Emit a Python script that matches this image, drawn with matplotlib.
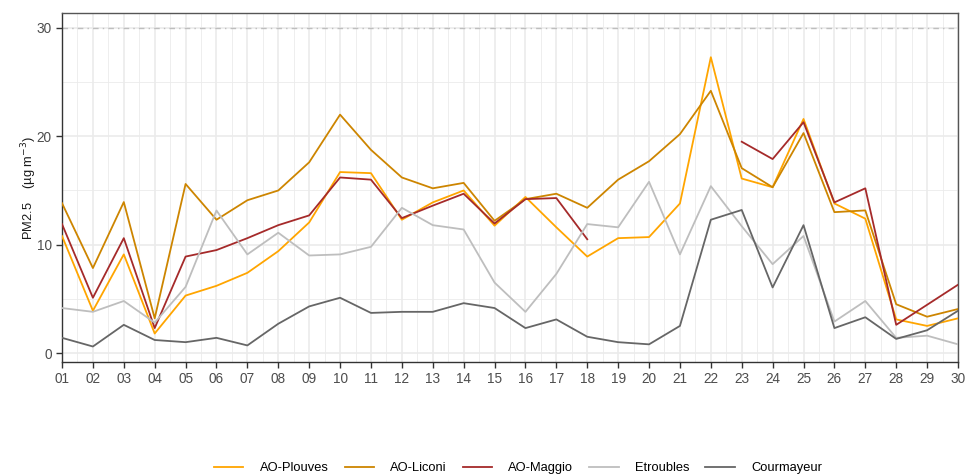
import matplotlib
matplotlib.use("Agg")
import matplotlib.pyplot as plt
import numpy as np

plt.rcParams['font.family'] = ['Liberation Sans', 'DejaVu Sans']

days = list(range(1, 31))
day_labels = [f"{d:02d}" for d in days]

plouves = [10.8, 3.9, 9.1, 1.8, 5.3, 6.2, 7.4, 9.4, 12.05, 16.7, 16.6, 12.3, 13.9, 15.0, 11.75,
           14.4, 11.6, 8.9, 10.6, 10.7, 13.8, 27.3, 16.1, 15.3, 21.6, 13.8, 12.4, 3.1, 2.5, 3.2]
liconi = [13.83, 7.84, 13.93, 3.2, 15.6, 12.3, 14.1, 15.0, 17.6, 22.0, 18.75, 16.2, 15.2, 15.7, 12.2,
          14.2, 14.7, 13.4, 16.0, 17.7, 20.2, 24.2, 17.06, 15.3, 20.3, 13.0, 13.16, 4.5, 3.35, 4.06]
maggio = [11.9, 5.1, 10.6, 2.3, 8.9, 9.5, 10.6, 11.8, 12.7, 16.2, 16.0, 12.45, 13.6, 14.7, 11.95,
          14.2, 14.3, 10.5, np.nan, np.nan, np.nan, np.nan, 19.5, 17.9, 21.3, 13.9, 15.2, 2.6, 4.45, 6.3]
etroubles = [4.15, 3.8, 4.8, 2.8, 6.1, 13.15, 9.1, 11.1, 9.0, 9.1, 9.8, 13.4, 11.8, 11.4, 6.5,
             3.8, 7.3, 11.9, 11.6, 15.8, 9.1, 15.4, 11.7, 8.2, 10.8, 2.9, 4.8, 1.4, 1.6, 0.8]
courmayeur = [1.4, 0.6, 2.6, 1.2, 1.0, 1.4, 0.7, 2.7, 4.3, 5.1, 3.7, 3.8, 3.8, 4.6, 4.15,
              2.3, 3.1, 1.5, 1.0, 0.8, 2.5, 12.3, 13.2, 6.05, 11.8, 2.3, 3.3, 1.3, 2.1, 3.9]

series = [
    ("AO-Plouves", plouves, "#FFA500"),
    ("AO-Liconi", liconi, "#CD8500"),
    ("AO-Maggio", maggio, "#A52A2A"),
    ("Etroubles", etroubles, "#BEBEBE"),
    ("Courmayeur", courmayeur, "#666666"),
]
limit_value = 30

fs = 9.3
fig = plt.figure(figsize=(9.66, 4.76), dpi=100)
ax = fig.add_axes([62/966, 1-362/476, (958-62)/966, (362-13)/476])

# grid
for v in np.arange(1.5, 30, 1.0):
    ax.axvline(v, color="#EBEBEB", lw=0.6, zorder=0)
for v in days:
    ax.axvline(v, color="#EBEBEB", lw=1.2, zorder=0)
for v in [5, 15, 25]:
    ax.axhline(v, color="#EBEBEB", lw=0.6, zorder=0)
for v in [0, 10, 20, 30]:
    ax.axhline(v, color="#EBEBEB", lw=1.2, zorder=0)

ax.axhline(limit_value, color="#BEBEBE", lw=1.0, dashes=(4, 3, 1, 3), zorder=1)

handles = []
for name, vals, col in series:
    h, = ax.plot(days, vals, color=col, lw=1.3, label=name, zorder=3)
    handles.append(h)

ax.set_xlim(1, 30)
ax.set_ylim(-0.83, 31.38)
ax.set_xticks(days)
ax.set_xticklabels(day_labels)
ax.set_yticks([0, 10, 20, 30])
ax.tick_params(axis='both', colors="#333333", labelcolor="#4D4D4D", labelsize=fs + 0.5, length=4, width=1)
ax.tick_params(axis='x', pad=3)
for s in ax.spines.values():
    s.set_color("#555555")
    s.set_linewidth(1.0)
ax.spines['left'].set_color("#333333")
ax.spines['bottom'].set_color("#333333")

ax.set_ylabel("PM2.5    (µg m$^{-3}$)", fontsize=fs, color="#1A1A1A", labelpad=-1.5)

fig.legend(handles=handles, loc='center', bbox_to_anchor=(518/966, 1-468/476), ncol=5,
           frameon=False, fontsize=fs, handlelength=2.27, handletextpad=1.25,
           columnspacing=1.25, borderpad=0, borderaxespad=0)

fig.savefig("out.png", dpi=100)
